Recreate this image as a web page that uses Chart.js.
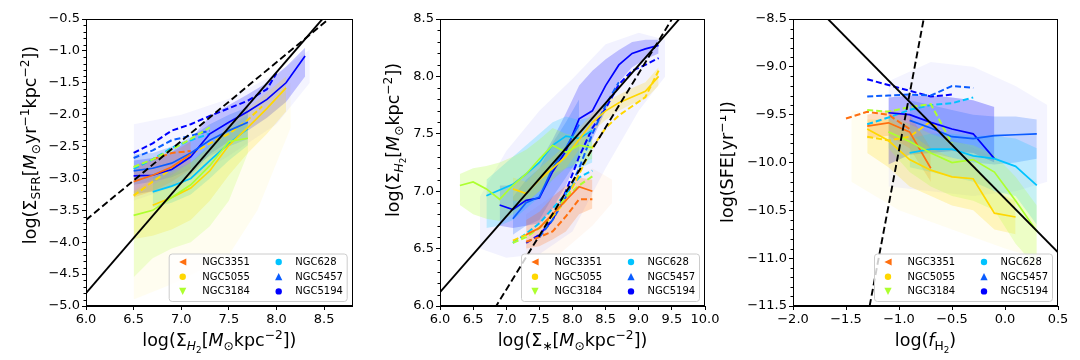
<!DOCTYPE html>
<html>
<head>
<meta charset="utf-8">
<script src="https://cdn.jsdelivr.net/npm/chart.js@4.4.1/dist/chart.umd.min.js"></script>
<style>
  body { margin: 0; background: #fff; }
  #wrap { display: flex; width: 1080px; height: 360px; }
  canvas { display: block; }
</style>
</head>
<body>
<div id="wrap">
  <canvas id="c1" width="360" height="360"></canvas>
  <canvas id="c2" width="360" height="360"></canvas>
  <canvas id="c3" width="360" height="360"></canvas>
</div>
<script>
// ---- galaxies / legend ----
const galaxyNames = ['NGC3351', 'NGC5055', 'NGC3184', 'NGC628', 'NGC5457', 'NGC5194'];
const galaxyColors = ['#ff6f0f', '#ffd700', '#adff2f', '#00c3ff', '#0a5cff', '#0000ff'];
const galaxyMarkers = ['<', 'o', 'v', 'o', '^', 'o'];

// ---- panel 1: log Sigma_SFR vs log Sigma_H2 ----
const p1XTicks = [6.0, 6.5, 7.0, 7.5, 8.0, 8.5];
const p1YTicks = [-5.0, -4.5, -4.0, -3.5, -3.0, -2.5, -2.0, -1.5, -1.0, -0.5];
const p1FitX = [6.0, 8.8];
const p1FitSolid = [-4.8, 0.05];
const p1FitDash = [-3.65, -0.19];

const ks3351X = [6.5, 6.7, 6.9, 7.1];
const ks3351Y = [-3.05, -2.95, -2.82, -2.62];
const ks3351Lo = [-3.3, -3.2, -3.05, -2.85];
const ks3351Hi = [-2.8, -2.7, -2.6, -2.42];
const ks3351DX = [6.7, 6.9, 7.1];
const ks3351DY = [-2.7, -2.6, -2.57];

const ks5055X = [6.7, 6.9, 7.1, 7.3, 7.5, 7.7, 7.9, 8.1];
const ks5055Y = [-3.42, -3.3, -3.15, -2.88, -2.48, -2.2, -1.9, -1.58];
const ks5055BX = [6.5, 6.7, 6.9, 7.1, 7.3, 7.5, 7.7, 7.9, 8.1];
const ks5055Lo = [-3.95, -3.9, -3.8, -3.65, -3.35, -2.95, -2.6, -2.3, -1.95];
const ks5055Hi = [-3.2, -3.0, -2.9, -2.75, -2.5, -2.15, -1.9, -1.65, -1.4];
const ks5055DX = [6.5, 6.7, 6.9, 7.1, 7.3, 7.5, 7.7, 7.85];
const ks5055DY = [-3.27, -3.05, -2.85, -2.62, -2.45, -2.3, -2.08, -1.87];

const ks3184X = [6.5, 6.7, 6.9, 7.1, 7.3, 7.5, 7.7];
const ks3184Y = [-3.58, -3.5, -3.3, -3.1, -2.8, -2.42, -2.37];
const ks3184Lo = [-4.55, -4.25, -4.1, -4.0, -3.75, -3.35, -2.6];
const ks3184Hi = [-3.2, -3.1, -2.95, -2.75, -2.5, -2.2, -2.15];
const ks3184DX = [6.5, 6.7, 6.9, 7.1, 7.3];
const ks3184DY = [-2.82, -2.7, -2.55, -2.38, -2.2];

const ks628X = [6.7, 6.9, 7.1, 7.3, 7.5, 7.7];
const ks628Y = [-3.21, -3.12, -3.0, -2.72, -2.45, -2.22];
const ks628Lo = [-3.45, -3.38, -3.25, -3.0, -2.72, -2.48];
const ks628Hi = [-2.98, -2.88, -2.75, -2.45, -2.2, -2.0];
const ks628DX = [6.5, 6.7, 6.9, 7.1, 7.3];
const ks628DY = [-2.85, -2.7, -2.52, -2.4, -2.3];

const ks5457X = [6.5, 6.7, 6.9, 7.1, 7.3, 7.5, 7.7];
const ks5457Y = [-2.88, -2.84, -2.76, -2.6, -2.4, -2.25, -2.12];
const ks5457Lo = [-3.1, -3.05, -2.98, -2.85, -2.65, -2.5, -2.38];
const ks5457Hi = [-2.62, -2.6, -2.5, -2.35, -2.15, -2.0, -1.88];
const ks5457DX = [6.5, 6.7, 6.9, 7.1, 7.3];
const ks5457DY = [-2.68, -2.56, -2.4, -2.33, -2.25];

const ks5194X = [6.5, 6.7, 6.9, 7.1, 7.3, 7.5, 7.7, 7.9, 8.1, 8.3];
const ks5194Y = [-2.96, -2.95, -2.86, -2.66, -2.3, -2.12, -1.95, -1.76, -1.5, -1.08];
const ks5194Lo = [-3.25, -3.2, -3.12, -2.95, -2.62, -2.42, -2.25, -2.05, -1.8, -1.4];
const ks5194Hi = [-2.72, -2.68, -2.58, -2.38, -2.02, -1.85, -1.68, -1.5, -1.25, -0.95];
const ks5194DX = [6.5, 6.7, 6.9, 7.1, 7.3, 7.5, 7.7, 7.9, 8.0];
const ks5194DY = [-2.6, -2.45, -2.25, -2.15, -2.02, -1.9, -1.78, -1.6, -1.35];

// faint point clouds (outer envelopes of the scatter)
const ksBlueCloudX = [6.5, 7.0, 7.5, 8.0, 8.35];
const ksBlueCloudLo = [-3.35, -3.1, -2.65, -2.15, -1.5];
const ksBlueCloudHi = [-2.15, -2.0, -1.75, -1.35, -0.98];
const ksYellowCloudX = [6.5, 7.0, 7.5, 7.8, 8.15];
const ksYellowCloudLo = [-4.9, -4.6, -4.2, -3.5, -2.2];
const ksYellowCloudHi = [-3.0, -2.9, -2.45, -2.05, -1.5];

// ---- panel 2: log Sigma_H2 vs log Sigma_* ----
const p2XTicks = [6.0, 6.5, 7.0, 7.5, 8.0, 8.5, 9.0, 9.5, 10.0];
const p2YTicks = [6.0, 6.5, 7.0, 7.5, 8.0, 8.5];
const p2FitX = [6.0, 10.0];
const p2FitSolid = [6.12, 8.756];
const p2FitDash = [5.2, 8.97];

const gas3351X = [7.3, 7.5, 7.7, 7.9, 8.1, 8.3];
const gas3351Y = [6.62, 6.68, 6.8, 6.92, 7.04, 7.0];
const gas3351Lo = [6.5, 6.52, 6.58, 6.65, 6.8, 6.85];
const gas3351Hi = [6.75, 6.82, 6.95, 7.05, 7.12, 7.1];
const gas3351DY = [6.56, 6.6, 6.65, 6.78, 6.93, 6.93];

const gas5055X = [7.1, 7.3, 7.5, 7.7, 7.9, 8.1, 8.3, 8.5, 8.7, 8.9, 9.1, 9.3];
const gas5055Y = [7.02, 6.98, 7.1, 7.2, 7.3, 7.45, 7.6, 7.7, 7.77, 7.82, 7.87, 8.0];
const gas5055Lo = [6.92, 6.9, 7.0, 7.1, 7.2, 7.36, 7.52, 7.62, 7.7, 7.76, 7.8, 7.92];
const gas5055Hi = [7.12, 7.08, 7.2, 7.3, 7.4, 7.55, 7.68, 7.78, 7.84, 7.9, 7.95, 8.08];
const gas5055DY = [6.57, 6.62, 6.68, 6.78, 6.92, 7.15, 7.38, 7.55, 7.66, 7.74, 7.82, 8.05];

const gas3184X = [6.3, 6.5, 6.7, 6.9, 7.1, 7.3, 7.5, 7.7, 7.9, 8.1, 8.3];
const gas3184Y = [7.05, 7.08, 7.02, 6.93, 7.05, 7.15, 7.28, 7.4, 7.34, 7.4, 7.38];
const gas3184Lo = [6.88, 6.8, 6.76, 6.74, 6.8, 6.9, 7.0, 7.15, 7.2, 7.25, 7.28];
const gas3184Hi = [7.15, 7.2, 7.22, 7.25, 7.3, 7.36, 7.45, 7.55, 7.5, 7.48, 7.46];
const gas3184DX = [7.1, 7.3, 7.5, 7.7, 7.9, 8.1, 8.3];
const gas3184DY = [6.55, 6.6, 6.68, 6.8, 6.95, 7.05, 7.13];

const gas628X = [6.7, 6.9, 7.1, 7.3, 7.5, 7.7, 7.9, 8.1, 8.3];
const gas628Y = [6.96, 7.01, 7.06, 7.15, 7.25, 7.4, 7.48, 7.46, 7.53];
const gas628Lo = [6.68, 6.7, 6.75, 6.85, 6.95, 7.1, 7.2, 7.2, 7.25];
const gas628Hi = [7.1, 7.2, 7.3, 7.4, 7.5, 7.6, 7.65, 7.62, 7.65];
const gas628DX = [7.1, 7.3, 7.5, 7.7, 7.9, 8.1, 8.3];
const gas628DY = [6.55, 6.63, 6.72, 6.85, 6.98, 7.12, 7.18];

const gas5457X = [7.1, 7.3, 7.5, 7.7, 7.9, 8.1];
const gas5457Y = [6.76, 6.9, 6.95, 7.2, 7.38, 7.58];
const gas5457Lo = [6.62, 6.7, 6.75, 6.95, 7.12, 7.3];
const gas5457Hi = [6.95, 7.1, 7.2, 7.42, 7.6, 7.8];
const gas5457DX = [7.5, 7.7, 7.9, 8.1, 8.3, 8.5, 8.7];
const gas5457DY = [6.6, 6.75, 6.95, 7.2, 7.5, 7.75, 7.95];

const gas5194X = [6.9, 7.1, 7.3, 7.5, 7.7, 7.9, 8.1, 8.3, 8.5, 8.7, 8.9, 9.1, 9.3];
const gas5194Y = [6.88, 6.84, 6.92, 6.94, 7.17, 7.35, 7.63, 7.7, 7.92, 8.1, 8.2, 8.24, 8.27];
const gas5194Lo = [6.7, 6.68, 6.7, 6.72, 6.85, 7.05, 7.3, 7.45, 7.7, 7.95, 8.08, 8.15, 8.2];
const gas5194Hi = [7.05, 7.05, 7.15, 7.25, 7.45, 7.68, 7.92, 8.05, 8.15, 8.23, 8.3, 8.32, 8.32];
const gas5194DX = [7.3, 7.5, 7.7, 7.9, 8.1, 8.3, 8.5, 8.7, 8.9, 9.1, 9.3];
const gas5194DY = [6.55, 6.62, 6.75, 7.0, 7.3, 7.55, 7.72, 7.93, 8.05, 8.1, 8.16];

const gasBlueCloudX = [6.6, 7.0, 7.5, 8.0, 8.5, 9.0, 9.4];
const gasBlueCloudLo = [6.5, 6.42, 6.45, 6.65, 7.2, 7.7, 8.0];
const gasBlueCloudHi = [6.95, 7.35, 7.7, 7.98, 8.28, 8.38, 8.32];
const gasOrangeCloudX = [7.3, 7.8, 8.3, 8.6];
const gasOrangeCloudLo = [6.45, 6.45, 6.7, 6.9];
const gasOrangeCloudHi = [6.8, 7.0, 7.2, 7.1];

// ---- panel 3: log SFE vs log f_H2 ----
const p3XTicks = [-2.0, -1.5, -1.0, -0.5, 0.0, 0.5];
const p3YTicks = [-11.5, -11.0, -10.5, -10.0, -9.5, -9.0, -8.5];
const p3FitX = [-2.0, 0.5];
const p3FitSolid = [-8.13, -10.94];
const p3DashX = [-1.277, -0.767];
const p3FitDash = [-11.5, -8.5];

const sfe3351X = [-1.3, -1.1, -0.9, -0.7];
const sfe3351Y = [-9.62, -9.585, -9.68, -10.06];
const sfe3351Lo = [-9.75, -9.72, -9.85, -10.2];
const sfe3351Hi = [-9.5, -9.45, -9.5, -9.85];
const sfe3351DX = [-1.5, -1.3, -1.1, -0.9];
const sfe3351DY = [-9.54, -9.47, -9.5, -9.65];

const sfe5055X = [-1.3, -1.1, -0.9, -0.7, -0.5, -0.3, -0.1, 0.1];
const sfe5055Y = [-9.65, -9.77, -9.97, -10.08, -10.15, -10.17, -10.53, -10.57];
const sfe5055Lo = [-9.9, -10.05, -10.25, -10.35, -10.45, -10.5, -10.7, -10.75];
const sfe5055Hi = [-9.55, -9.55, -9.7, -9.85, -9.95, -10.0, -10.3, -10.4];
const sfe5055DX = [-1.3, -1.1, -0.9, -0.7, -0.5];
const sfe5055DY = [-9.73, -9.77, -9.73, -9.57, -9.82];

const sfe3184X = [-1.1, -0.9, -0.7, -0.5, -0.3, -0.1, 0.1, 0.3];
const sfe3184Y = [-9.68, -9.78, -9.9, -10.0, -9.97, -10.1, -10.4, -10.72];
const sfe3184Lo = [-9.85, -10.1, -10.25, -10.35, -10.4, -10.5, -10.85, -11.1];
const sfe3184Hi = [-9.5, -9.6, -9.7, -9.78, -9.82, -9.92, -10.15, -10.45];
const sfe3184DX = [-1.3, -1.1, -0.9, -0.7, -0.5];
const sfe3184DY = [-9.45, -9.47, -9.42, -9.39, -9.8];

const sfe628X = [-0.9, -0.7, -0.5, -0.3, -0.1, 0.1, 0.3];
const sfe628Y = [-9.9, -9.86, -9.86, -9.93, -9.96, -10.04, -10.24];
const sfe628Lo = [-10.05, -10.1, -10.15, -10.2, -10.3, -10.35, -10.65];
const sfe628Hi = [-9.75, -9.7, -9.7, -9.72, -9.72, -9.75, -9.85];
const sfe628DX = [-1.3, -1.1, -0.9, -0.7, -0.5, -0.3];
const sfe628DY = [-9.6, -9.53, -9.45, -9.4, -9.38, -9.32];

const sfe5457X = [-0.9, -0.7, -0.5, -0.3, -0.1, 0.1, 0.3];
const sfe5457Y = [-9.56, -9.64, -9.73, -9.75, -9.72, -9.71, -9.7];
const sfe5457Lo = [-9.8, -9.9, -9.95, -10.0, -10.02, -10.0, -9.96];
const sfe5457Hi = [-9.35, -9.4, -9.45, -9.5, -9.52, -9.52, -9.55];
const sfe5457DX = [-1.3, -1.1, -0.9, -0.7, -0.5, -0.3];
const sfe5457DY = [-9.31, -9.3, -9.29, -9.3, -9.2, -9.22];

const sfe5194X = [-1.1, -0.9, -0.7, -0.5, -0.3, -0.1];
const sfe5194Y = [-9.48, -9.5, -9.58, -9.65, -9.7, -9.96];
const sfe5194Lo = [-10.02, -9.92, -9.9, -9.88, -9.9, -10.0];
const sfe5194Hi = [-9.32, -9.3, -9.3, -9.32, -9.35, -9.42];
const sfe5194DX = [-1.3, -1.1, -0.9, -0.7, -0.5];
const sfe5194DY = [-9.13, -9.19, -9.25, -9.31, -9.29];

const sfeBlueCloudX = [-1.1, -0.7, -0.3, 0.1, 0.4];
const sfeBlueCloudLo = [-10.25, -10.3, -10.35, -10.3, -10.2];
const sfeBlueCloudHi = [-9.15, -8.95, -9.0, -9.2, -9.4];
const sfeYellowCloudX = [-1.45, -1.0, -0.5, 0.0, 0.3];
const sfeYellowCloudLo = [-10.2, -10.5, -10.7, -10.9, -11.0];
const sfeYellowCloudHi = [-9.45, -9.55, -9.75, -10.0, -10.2];

// ---- axis titles (mathtext-like pieces) ----
const p1XTitle = [{t: 'log(Σ'}, {t: 'H', k: 'sub', it: 1}, {t: '2', k: 'subsub'}, {t: '['}, {t: 'M', it: 1}, {t: '⊙', k: 'sub'}, {t: 'kpc'}, {t: '−2', k: 'sup'}, {t: '])'}];
const p1YTitle = [{t: 'log(Σ'}, {t: 'SFR', k: 'sub'}, {t: '['}, {t: 'M', it: 1}, {t: '⊙', k: 'sub'}, {t: 'yr'}, {t: '−1', k: 'sup'}, {t: 'kpc'}, {t: '−2', k: 'sup'}, {t: '])'}];
const p2XTitle = [{t: 'log(Σ'}, {t: '∗', k: 'sub'}, {t: '['}, {t: 'M', it: 1}, {t: '⊙', k: 'sub'}, {t: 'kpc'}, {t: '−2', k: 'sup'}, {t: '])'}];
const p2YTitle = p1XTitle;
const p3XTitle = [{t: 'log('}, {t: 'f', it: 1}, {t: 'H', k: 'sub'}, {t: '2', k: 'subsub'}, {t: ')'}];
const p3YTitle = [{t: 'log(SFE[yr'}, {t: '−1', k: 'sup'}, {t: '])'}];

const FONT = '"DejaVu Sans", "Liberation Sans", sans-serif';

function pts(xs, ys) {
    return xs.map(function (x, i) { return {x: x, y: ys[i]}; });
}

function rgba(hex, a) {
    var n = parseInt(hex.slice(1), 16);
    return 'rgba(' + (n >> 16) + ',' + ((n >> 8) & 255) + ',' + (n & 255) + ',' + a + ')';
}

// band = two datasets, upper fills down to the next one
function bandSets(xs, lo, hi, color, alpha, order) {
    return [
        {data: pts(xs, hi), borderWidth: 0, pointRadius: 0, fill: '+1', backgroundColor: rgba(color, alpha), order: order || 3},
        {data: pts(xs, lo), borderWidth: 0, pointRadius: 0, fill: false, order: order || 3}
    ];
}

function lineSet(xs, ys, color, dashed, width) {
    return {
        data: pts(xs, ys), borderColor: color, borderWidth: width || (dashed ? 2 : 1.7),
        borderDash: dashed ? [6, 3] : [], pointRadius: 0, fill: false, tension: 0, order: dashed ? 2 : 1
    };
}

function fitSet(xs, ys, dashed) {
    var d = lineSet(xs, ys, '#000000', dashed, 1.9);
    d.borderDash = dashed ? [7, 3.5] : [];
    d.order = 0;
    return d;
}

function drawRich(ctx, segs, size, cx, cy, rotated) {
    var spec = {n: [1, 0], sub: [0.7, 0.22], sup: [0.7, -0.42], subsub: [0.5, 0.4]};
    var total = 0;
    var widths = segs.map(function (s) {
        var sp = spec[s.k || 'n'];
        ctx.font = (s.it ? 'italic ' : '') + (size * sp[0]) + 'px ' + FONT;
        var w = ctx.measureText(s.t).width;
        total += w;
        return w;
    });
    ctx.save();
    ctx.translate(cx, cy);
    if (rotated) ctx.rotate(-Math.PI / 2);
    ctx.fillStyle = '#000';
    ctx.textBaseline = 'alphabetic';
    ctx.textAlign = 'left';
    var x = -total / 2;
    segs.forEach(function (s, i) {
        var sp = spec[s.k || 'n'];
        ctx.font = (s.it ? 'italic ' : '') + (size * sp[0]) + 'px ' + FONT;
        ctx.fillText(s.t, x, sp[1] * size);
        x += widths[i];
    });
    ctx.restore();
}

function drawMarker(ctx, kind, x, y, r, color) {
    ctx.fillStyle = color;
    ctx.beginPath();
    if (kind === 'o') {
        ctx.arc(x, y, r, 0, Math.PI * 2);
    } else if (kind === '<') {
        ctx.moveTo(x - r, y); ctx.lineTo(x + r, y - r); ctx.lineTo(x + r, y + r);
    } else if (kind === 'v') {
        ctx.moveTo(x, y + r); ctx.lineTo(x - r, y - r); ctx.lineTo(x + r, y - r);
    } else {
        ctx.moveTo(x, y - r); ctx.lineTo(x - r, y + r); ctx.lineTo(x + r, y + r);
    }
    ctx.closePath();
    ctx.fill();
}

var decorPlugin = {
    id: 'decor',
    afterDraw: function (chart) {
        var o = chart.options.plugins.decor;
        var ctx = chart.ctx;
        var a = chart.chartArea;
        var ys = chart.scales.y;
        ctx.save();
        // box
        ctx.strokeStyle = '#000';
        ctx.lineWidth = 1;
        ctx.strokeRect(Math.round(a.left) + 0.5, Math.round(a.top) + 0.5,
            Math.round(a.right - a.left) - 1, Math.round(a.bottom - a.top) - 1);
        // minor y ticks every 0.1
        var n = Math.round((ys.max - ys.min) / 0.1);
        for (var i = 0; i <= n; i++) {
            if (i % 5 === 0) continue;
            var py = Math.round(ys.getPixelForValue(ys.min + i * 0.1)) + 0.5;
            ctx.beginPath();
            ctx.moveTo(a.left - 2.5, py);
            ctx.lineTo(a.left, py);
            ctx.stroke();
        }
        // legend
        var bw = 178, bh = 47.5;
        var bx = a.right - 6 - bw, by = a.bottom - 5 - bh;
        ctx.fillStyle = 'rgba(255,255,255,0.8)';
        ctx.strokeStyle = '#cccccc';
        ctx.beginPath();
        ctx.roundRect(bx + 0.5, by + 0.5, bw, bh, 3);
        ctx.fill();
        ctx.stroke();
        ctx.font = '10px ' + FONT;
        ctx.textBaseline = 'middle';
        galaxyNames.forEach(function (name, i) {
            var col = Math.floor(i / 3), row = i % 3;
            var mx = bx + (col ? 110 : 14), tx = bx + (col ? 126.5 : 33.5);
            var my = by + 8.5 + row * 14.7;
            drawMarker(ctx, galaxyMarkers[i], mx, my, galaxyMarkers[i] === 'o' ? 3.2 : 3.6, galaxyColors[i]);
            ctx.fillStyle = '#000';
            ctx.fillText(name, tx, my + 0.5);
        });
        // axis titles
        drawRich(ctx, o.xTitle, 17.5, (a.left + a.right) / 2, 346, false);
        drawRich(ctx, o.yTitle, 17.5, o.yTitleX, o.yTitleY, true);
        ctx.restore();
    }
};

function tickFmt(v) {
    return v.toFixed(1).replace('-', '\u2212');
}

function makeChart(id, cfg) {
    var axisCommon = {
        type: 'linear',
        grid: {display: true, drawOnChartArea: false, drawTicks: true, tickLength: 4, tickColor: '#000', tickWidth: 1},
        border: {display: true, color: '#000', width: 1},
        ticks: {color: '#000', font: {family: FONT, size: 13}, padding: 2, maxRotation: 0, autoSkip: false, callback: tickFmt}
    };
    return new Chart(document.getElementById(id), {
        type: 'line',
        data: {datasets: cfg.datasets},
        options: {
            responsive: false,
            devicePixelRatio: 1,
            animation: false,
            events: [],
            layout: {padding: {left: 0, right: cfg.rightPad, top: 19, bottom: 0}},
            plugins: {
                legend: {display: false},
                tooltip: {enabled: false},
                decor: {xTitle: cfg.xTitle, yTitle: cfg.yTitle, yTitleX: cfg.yTitleX, yTitleY: cfg.yTitleY}
            },
            scales: {
                x: Object.assign({}, axisCommon, {
                    position: 'bottom', min: cfg.xMin, max: cfg.xMax,
                    afterBuildTicks: function (s) { s.ticks = cfg.xTicks.map(function (v) { return {value: v}; }); },
                    afterFit: function (s) { s.height = 54; s.paddingLeft = 0; s.paddingRight = 0; }
                }),
                y: Object.assign({}, axisCommon, {
                    position: 'left', min: cfg.yMin, max: cfg.yMax,
                    afterBuildTicks: function (s) { s.ticks = cfg.yTicks.map(function (v) { return {value: v}; }); },
                    afterFit: function (s) { s.width = cfg.leftW; s.paddingTop = 0; s.paddingBottom = 0; }
                })
            }
        },
        plugins: [decorPlugin]
    });
}

// collect datasets for one panel: fit lines (front), lines, bands, clouds (back)
function panelSets(groups, fits, clouds) {
    var bands = [], lines = [], haze = [];
    groups.forEach(function (g) {
        var c = galaxyColors[g.i];
        bands = bands.concat(bandSets(g.bx || g.x, g.lo, g.hi, c, g.alpha || 0.22));
        if (g.dx) lines.push(lineSet(g.dx, g.dy, c, true));
        lines.push(lineSet(g.x, g.y, c, false));
    });
    clouds.forEach(function (cl) {
        haze = haze.concat(bandSets(cl.x, cl.lo, cl.hi, galaxyColors[cl.i], cl.alpha || 0.05, 4));
    });
    return fits.concat(lines, bands, haze);
}

makeChart('c1', {
    xMin: 6.0, xMax: 8.8, yMin: -5.0, yMax: -0.5, xTicks: p1XTicks, yTicks: p1YTicks,
    leftW: 86, rightPad: 7.3, xTitle: p1XTitle, yTitle: p1YTitle, yTitleX: 36, yTitleY: 145,
    datasets: panelSets([
        {i: 2, x: ks3184X, y: ks3184Y, lo: ks3184Lo, hi: ks3184Hi, dx: ks3184DX, dy: ks3184DY, alpha: 0.18},
        {i: 1, x: ks5055X, y: ks5055Y, bx: ks5055BX, lo: ks5055Lo, hi: ks5055Hi, dx: ks5055DX, dy: ks5055DY, alpha: 0.2},
        {i: 3, x: ks628X, y: ks628Y, lo: ks628Lo, hi: ks628Hi, dx: ks628DX, dy: ks628DY},
        {i: 0, x: ks3351X, y: ks3351Y, lo: ks3351Lo, hi: ks3351Hi, dx: ks3351DX, dy: ks3351DY},
        {i: 4, x: ks5457X, y: ks5457Y, lo: ks5457Lo, hi: ks5457Hi, dx: ks5457DX, dy: ks5457DY},
        {i: 5, x: ks5194X, y: ks5194Y, lo: ks5194Lo, hi: ks5194Hi, dx: ks5194DX, dy: ks5194DY}
    ], [fitSet(p1FitX, p1FitSolid, false), fitSet(p1FitX, p1FitDash, true)], [
        {i: 5, x: ksBlueCloudX, lo: ksBlueCloudLo, hi: ksBlueCloudHi, alpha: 0.045},
        {i: 1, x: ksYellowCloudX, lo: ksYellowCloudLo, hi: ksYellowCloudHi, alpha: 0.06}
    ])
});

makeChart('c2', {
    xMin: 6.0, xMax: 10.0, yMin: 6.0, yMax: 8.5, xTicks: p2XTicks, yTicks: p2YTicks,
    leftW: 80, rightPad: 15, xTitle: p2XTitle, yTitle: p2YTitle, yTitleX: 39, yTitleY: 140,
    datasets: panelSets([
        {i: 2, x: gas3184X, y: gas3184Y, lo: gas3184Lo, hi: gas3184Hi, dx: gas3184DX, dy: gas3184DY, alpha: 0.25},
        {i: 1, x: gas5055X, y: gas5055Y, lo: gas5055Lo, hi: gas5055Hi, dx: gas5055X, dy: gas5055DY},
        {i: 3, x: gas628X, y: gas628Y, lo: gas628Lo, hi: gas628Hi, dx: gas628DX, dy: gas628DY},
        {i: 0, x: gas3351X, y: gas3351Y, lo: gas3351Lo, hi: gas3351Hi, dx: gas3351X, dy: gas3351DY},
        {i: 4, x: gas5457X, y: gas5457Y, lo: gas5457Lo, hi: gas5457Hi, dx: gas5457DX, dy: gas5457DY},
        {i: 5, x: gas5194X, y: gas5194Y, lo: gas5194Lo, hi: gas5194Hi, dx: gas5194DX, dy: gas5194DY}
    ], [fitSet(p2FitX, p2FitSolid, false), fitSet(p2FitX, p2FitDash, true)], [
        {i: 5, x: gasBlueCloudX, lo: gasBlueCloudLo, hi: gasBlueCloudHi, alpha: 0.05},
        {i: 0, x: gasOrangeCloudX, lo: gasOrangeCloudLo, hi: gasOrangeCloudHi, alpha: 0.05}
    ])
});

makeChart('c3', {
    xMin: -2.0, xMax: 0.5, yMin: -11.5, yMax: -8.5, xTicks: p3XTicks, yTicks: p3YTicks,
    leftW: 73, rightPad: 22, xTitle: p3XTitle, yTitle: p3YTitle, yTitleX: 13, yTitleY: 162,
    datasets: panelSets([
        {i: 2, x: sfe3184X, y: sfe3184Y, lo: sfe3184Lo, hi: sfe3184Hi, dx: sfe3184DX, dy: sfe3184DY},
        {i: 1, x: sfe5055X, y: sfe5055Y, lo: sfe5055Lo, hi: sfe5055Hi, dx: sfe5055DX, dy: sfe5055DY},
        {i: 3, x: sfe628X, y: sfe628Y, lo: sfe628Lo, hi: sfe628Hi, dx: sfe628DX, dy: sfe628DY},
        {i: 0, x: sfe3351X, y: sfe3351Y, lo: sfe3351Lo, hi: sfe3351Hi, dx: sfe3351DX, dy: sfe3351DY},
        {i: 4, x: sfe5457X, y: sfe5457Y, lo: sfe5457Lo, hi: sfe5457Hi, dx: sfe5457DX, dy: sfe5457DY},
        {i: 5, x: sfe5194X, y: sfe5194Y, lo: sfe5194Lo, hi: sfe5194Hi, dx: sfe5194DX, dy: sfe5194DY, alpha: 0.28}
    ], [fitSet(p3FitX, p3FitSolid, false), fitSet(p3DashX, p3FitDash, true)], [
        {i: 5, x: sfeBlueCloudX, lo: sfeBlueCloudLo, hi: sfeBlueCloudHi, alpha: 0.045},
        {i: 1, x: sfeYellowCloudX, lo: sfeYellowCloudLo, hi: sfeYellowCloudHi, alpha: 0.06}
    ])
});
</script>
</body>
</html>
